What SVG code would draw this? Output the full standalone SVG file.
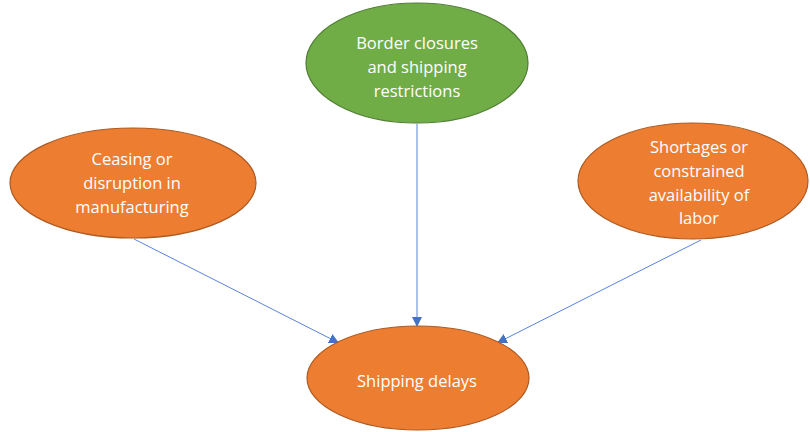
<svg xmlns="http://www.w3.org/2000/svg" width="810" height="432" viewBox="0 0 810 432">
<style>
.n{fill:#ED7D31;stroke:#AE5A21;stroke-width:1.2}
.g{fill:#70AD47;stroke:#507E32;stroke-width:1.2}
text{font-family:"Open Sans","Liberation Sans",sans-serif;font-size:16.5px;fill:#fff;text-anchor:middle}
.c{stroke:#5B84D6;stroke-width:1;fill:none;marker-end:url(#ah)}
</style>
<defs>
<marker id="ah" viewBox="0 0 10 10" refX="10" refY="5" markerWidth="10" markerHeight="10" markerUnits="userSpaceOnUse" orient="auto">
<path d="M0,0 L10,5 L0,10 z" fill="#4472C4"/>
</marker>
</defs>
<rect width="810" height="432" fill="#fff"/>
<g id="connectors">
<line class="c" x1="417" y1="124" x2="417" y2="327"/>
<line class="c" x1="134" y1="239" x2="339" y2="343"/>
<line class="c" x1="701" y1="240" x2="497" y2="343"/>
</g>
<g id="border">
<ellipse class="g" cx="417" cy="63" rx="111" ry="60"/>
<text x="417" y="49">Border closures</text>
<text x="417" y="73">and shipping</text>
<text x="417" y="97">restrictions</text>
</g>
<g id="ceasing">
<ellipse class="n" cx="133" cy="183" rx="123" ry="55"/>
<text x="132" y="165">Ceasing or</text>
<text x="132" y="189">disruption in</text>
<text x="132" y="213">manufacturing</text>
</g>
<g id="shortages">
<ellipse class="n" cx="693" cy="181" rx="115" ry="58"/>
<text x="699" y="153">Shortages or</text>
<text x="699" y="177">constrained</text>
<text x="699" y="201">availability of</text>
<text x="699" y="224">labor</text>
</g>
<g id="delays">
<ellipse class="n" cx="418" cy="378" rx="111" ry="52"/>
<text x="417" y="387">Shipping delays</text>
</g>
</svg>
